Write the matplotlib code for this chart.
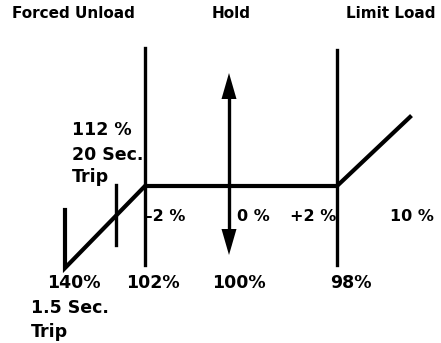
import matplotlib.pyplot as plt

# schematic coordinates (pixel-like units, y grows downwards)
curve_x = [65, 65, 145, 337, 410]
curve_y = [210, 268, 186, 186, 117]
boundary_x = [145, 337]
boundary_top = [48, 50]
boundary_bottom = [265, 265]
trip_tick_x = 116
trip_tick_y = [185, 245]
arrow_x = 229
arrow_y = [73, 255]

header_labels = ['Forced Unload', 'Hold', 'Limit Load']
header_x = [12, 231, 435]
header_ha = ['left', 'center', 'right']

band_labels = ['-2 %', '0 %', '+2 %', '10 %']
band_x = [146, 237, 290, 390]

setpoint_labels = ['140%', '102%', '100%', '98%']
setpoint_x = [74, 153, 239, 351]

trip_labels = ['112 %', '20 Sec.', 'Trip']
trip_baselines = [135, 160, 182]
fast_trip_labels = ['1.5 Sec.', 'Trip']
fast_trip_baselines = [313, 337]

fig = plt.figure(figsize=(4.41, 3.43), dpi=100)
ax = fig.add_axes([0, 0, 1, 1])
ax.set_xlim(0, 441)
ax.set_ylim(343, 0)
ax.axis('off')

ax.plot(curve_x, curve_y, color='black', lw=3, solid_joinstyle='miter')
for x, t, b in zip(boundary_x, boundary_top, boundary_bottom):
    ax.plot([x, x], [t, b], color='black', lw=2.4)
ax.plot([trip_tick_x, trip_tick_x], trip_tick_y, color='black', lw=2.4)

# hold arrow, both directions
head_len, head_w = 26, 7.5
ax.plot([arrow_x, arrow_x], [arrow_y[0] + 10, arrow_y[1] - 10], color='black', lw=2.4,
        solid_capstyle='butt')
ax.fill([arrow_x, arrow_x - head_w, arrow_x + head_w],
        [arrow_y[0], arrow_y[0] + head_len, arrow_y[0] + head_len], color='black', lw=0)
ax.fill([arrow_x, arrow_x - head_w, arrow_x + head_w],
        [arrow_y[1], arrow_y[1] - head_len, arrow_y[1] - head_len], color='black', lw=0)

font = dict(family='DejaVu Sans', fontweight='bold', color='black')

for lab, x, ha in zip(header_labels, header_x, header_ha):
    ax.text(x, 18.5, lab, ha=ha, va='baseline', fontsize=11, **font)

for lab, y in zip(trip_labels, trip_baselines):
    ax.text(72, y, lab, ha='left', va='baseline', fontsize=12.5, **font)

for lab, x in zip(band_labels, band_x):
    ax.text(x, 221, lab, ha='left', va='baseline', fontsize=11.5, **font)

for lab, x in zip(setpoint_labels, setpoint_x):
    ax.text(x, 288, lab, ha='center', va='baseline', fontsize=12.5, **font)

for lab, y in zip(fast_trip_labels, fast_trip_baselines):
    ax.text(31, y, lab, ha='left', va='baseline', fontsize=12.5, **font)

fig.savefig('out.png', dpi=100)
